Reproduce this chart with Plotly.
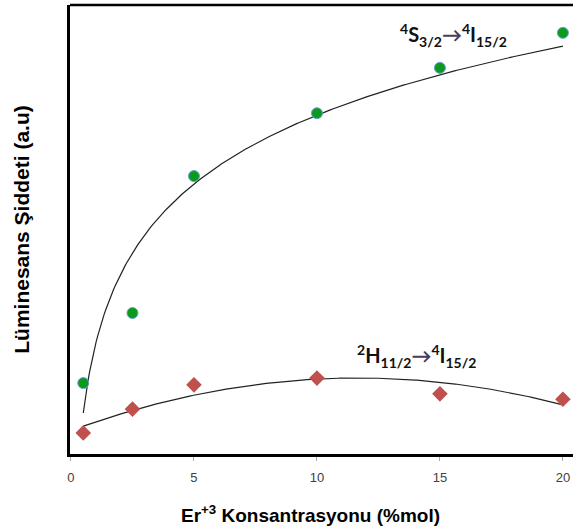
import numpy as np
import plotly.graph_objects as go

# Data (arbitrary intensity units)
conc = [0.5, 2.5, 5, 10, 15, 20]
s32 = [15.8, 31.4, 61.9, 75.9, 86.0, 93.8]      # 4S3/2 -> 4I15/2
h112 = [4.7, 10.0, 15.4, 16.9, 13.4, 12.2]     # 2H11/2 -> 4I15/2
xticks = [0, 5, 10, 15, 20]

# Trend lines fitted to the data (log fit and 2nd-order polynomial)
xs = np.linspace(min(conc), max(conc), 300)
a, b = np.polyfit(np.log(conc), s32, 1)
fit_s = a * np.log(xs) + b
p = np.polyfit(conc, h112, 2)
fit_h = np.polyval(p, xs)

fig = go.Figure()
fig.add_trace(go.Scatter(x=xs, y=fit_s, mode="lines",
                         line=dict(color="#222222", width=1.2), showlegend=False))
fig.add_trace(go.Scatter(x=xs, y=fit_h, mode="lines",
                         line=dict(color="#222222", width=1.2), showlegend=False))
fig.add_trace(go.Scatter(x=conc, y=s32, mode="markers",
                         marker=dict(symbol="circle", size=11, color="#0b9a1b",
                                     line=dict(color="#6a9ed0", width=1)),
                         showlegend=False))
fig.add_trace(go.Scatter(x=conc, y=h112, mode="markers",
                         marker=dict(symbol="diamond", size=12, color="#c0504d",
                                     line=dict(width=0)),
                         showlegend=False))

lab_font = dict(family="Lato", size=20, color="#111111")
fig.add_annotation(x=13.3, y=93.3, xref="x", yref="y",
                   text="<b><sup>4</sup>S<sub>3/2</sub><span style='color:#4a3c5a'>→</span><sup>4</sup>I<sub>15/2</sub></b>",
                   showarrow=False, font=lab_font, xanchor="left", yanchor="middle")
fig.add_annotation(x=11.55, y=21.9, xref="x", yref="y",
                   text="<b><sup>2</sup>H<sub>11/2</sub><span style='color:#4a3c5a'>→</span><sup>4</sup>I<sub>15/2</sub></b>",
                   showarrow=False, font=lab_font, xanchor="left", yanchor="middle")

fig.add_annotation(x=(310 - 70) / 503, y=-(514 - 454) / 449, xref="paper", yref="paper",
                   text="<b>Er<sup>+3</sup> Konsantrasyonu (%mol)</b>", showarrow=False,
                   xanchor="center", yanchor="middle",
                   font=dict(family="Liberation Sans", size=19, color="#000000"))

fig.update_xaxes(range=[-0.04, 20.41], tickvals=xticks, ticks="outside", ticklen=4,
                 tickcolor="#aaaaaa", showgrid=False, zeroline=False,
                 showline=True, linecolor="#000000", linewidth=2.5, mirror=False,
                 ticklabelstandoff=6,
                 tickfont=dict(family="Liberation Sans", size=13, color="#404040"))
fig.update_yaxes(range=[0, 100], showticklabels=False, ticks="", showgrid=False,
                 zeroline=False, showline=True, linecolor="#000000", linewidth=2.5,
                 title=dict(text="<b>Lüminesans Şiddeti (a.u)</b>", standoff=32,
                            font=dict(family="Liberation Sans", size=21, color="#000000")))

fig.add_shape(type="line", xref="paper", yref="paper", x0=0, x1=1.02, y0=1, y1=1,
              line=dict(color="#000000", width=2.5))

fig.update_layout(width=573, height=531, margin=dict(l=70, r=0, t=5, b=77),
                  plot_bgcolor="white", paper_bgcolor="white")

fig.write_html("out.html")
